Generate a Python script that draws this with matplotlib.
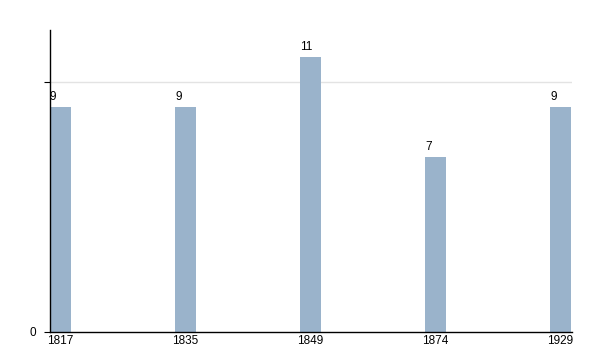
import matplotlib.pyplot as plt

years = ["1817", "1835", "1849", "1874", "1929"]
counts = [9, 9, 11, 7, 9]

plt.rcParams['font.family'] = ['Liberation Sans', 'DejaVu Sans']

fig = plt.figure(figsize=(6, 3.5), dpi=100)
ax = fig.add_axes([50 / 600, 18 / 350, 522 / 600, 302 / 350])

pos = list(range(len(years)))
bars = ax.bar(pos, counts, width=0.168, color='#9ab3cb', zorder=2)

# value labels, sitting on top of each bar at its left edge
for b, v in zip(bars, counts):
    ax.text(b.get_x(), v + 0.16, str(v), ha='left', va='bottom', fontsize=8.5)

ax.set_xlim(-0.084, 4.092)
ax.set_ylim(0, 12.08)
ax.set_xticks(pos)
ax.set_xticklabels(years, fontsize=8.5)
ax.tick_params(axis='x', length=0, pad=2)
ax.set_yticks([0, 10])
ax.set_yticklabels(['0', ''], fontsize=8.5)
ax.tick_params(axis='y', length=4, pad=6)
ax.axhline(10, color='#e3e3e3', lw=1, zorder=1)

for s in ['top', 'right']:
    ax.spines[s].set_visible(False)
for s in ['left', 'bottom']:
    ax.spines[s].set_linewidth(1)
    ax.spines[s].set_color('black')

fig.savefig('out.png', dpi=100)
